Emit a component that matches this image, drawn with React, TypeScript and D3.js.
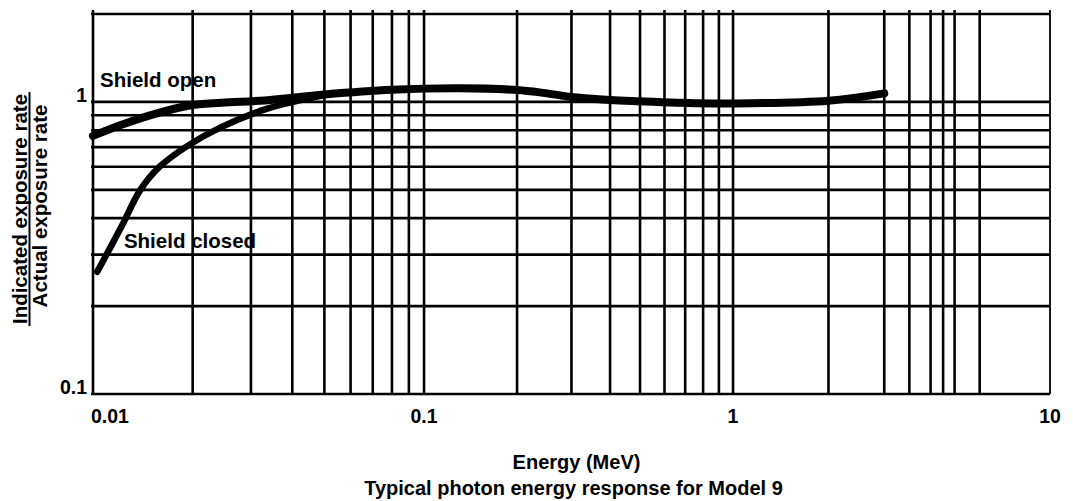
import React from "react";
import * as d3 from "d3";

// ---- data ----
const xGridValues = [0.01, 0.02, 0.03, 0.04, 0.05, 0.06, 0.07, 0.08, 0.09, 0.1, 0.2, 0.3, 0.4, 0.5, 0.6, 0.7, 0.8, 0.9, 1, 2, 3, 3.6, 4.2, 4.6, 5, 6, 10];
const yGridValues = [0.1, 0.2, 0.3, 0.4, 0.5, 0.6, 0.7, 0.8, 0.9, 1, 2];
const xTickValues = [0.01, 0.1, 1, 10];
const xTickLabels = ["0.01", "0.1", "1", "10"];
const yTickValues = [0.1, 1];
const yTickLabels = ["0.1", "1"];

const openEnergy = [0.01, 0.0122, 0.0154, 0.0194, 0.0244, 0.033, 0.05, 0.08, 0.13, 0.2, 0.243, 0.3, 0.4, 0.5, 0.77, 1.0, 2.0, 3.0];
const openResponse = [0.765, 0.835, 0.91, 0.97, 0.993, 1.012, 1.06, 1.1, 1.113, 1.098, 1.074, 1.04, 1.015, 1.005, 0.99, 0.988, 1.01, 1.07];

const closedEnergy = [0.0103, 0.0122, 0.0139, 0.0159, 0.0194, 0.0244, 0.0338, 0.05];
const closedResponse = [0.262, 0.375, 0.5, 0.6, 0.71, 0.82, 0.95, 1.055];

const openLabel = { text: "Shield open", energy: 0.0105, value: 1.125 };
const closedLabel = { text: "Shield closed", energy: 0.0124, value: 0.317 };

const yTitleTop = "Indicated exposure rate";
const yTitleBottom = "Actual exposure rate";
const xTitle = "Energy (MeV)";
const caption = "Typical photon energy response for Model 9";

// ---- layout ----
const W = 1073;
const H = 501;
const M = { left: 93, right: 23, top: 14, bottom: 107 };
const decadeStops = [0, 0.3459, 0.6688, 1];
const FONT = "'Liberation Sans', Arial, Helvetica, sans-serif";

export default function App() {
  const plotW = W - M.left - M.right;
  const x = d3
    .scaleLog()
    .domain([0.01, 0.1, 1, 10])
    .range(decadeStops.map((f) => M.left + f * plotW));
  const y = d3.scaleLog().domain([0.1, 2]).range([H - M.bottom, M.top]);

  const line = d3
    .line<[number, number]>()
    .x((d) => x(d[0]))
    .y((d) => y(d[1]))
    .curve(d3.curveCatmullRom.alpha(0.5));

  const openPts = openEnergy.map((e, i) => [e, openResponse[i]] as [number, number]);
  const closedPts = closedEnergy.map((e, i) => [e, closedResponse[i]] as [number, number]);

  const x0 = x(0.01);
  const x1 = x(10);
  const yTop = y(2);
  const yBot = y(0.1);
  const gridW = 2.6;
  const yTitleCenter = 209;

  return (
    <svg
      width={W}
      height={H}
      style={{ position: "absolute", left: 0, top: 0, background: "#fff" }}
      fontFamily={FONT}
      fontWeight="bold"
    >
      <rect width={W} height={H} fill="#fff" />
      {/* horizontal grid */}
      {yGridValues.map((v) => (
        <line key={"h" + v} x1={x0 - 2} x2={x1} y1={y(v)} y2={y(v)} stroke="#000" strokeWidth={gridW} />
      ))}
      {/* vertical grid */}
      {xGridValues.map((v) => (
        <line
          key={"v" + v}
          x1={x(v)}
          x2={x(v)}
          y1={yTop - 4}
          y2={yBot}
          stroke="#000"
          strokeWidth={v === 10 ? 1.8 : gridW}
        />
      ))}
      {/* curves */}
      <path d={line(closedPts) || ""} fill="none" stroke="#000" strokeWidth={6.5} strokeLinecap="round" />
      <path d={line(openPts) || ""} fill="none" stroke="#000" strokeWidth={8} strokeLinecap="round" />

      {/* annotations */}
      <text x={x(openLabel.energy)} y={y(openLabel.value)} fontSize={20.5}>
        {openLabel.text}
      </text>
      <text x={x(closedLabel.energy)} y={y(closedLabel.value)} fontSize={20.5}>
        {closedLabel.text}
      </text>

      {/* x tick labels */}
      {xTickValues.map((v, i) => (
        <text
          key={"xt" + v}
          x={i === 0 ? x(v) - 2 : x(v)}
          y={yBot + 29}
          fontSize={19.5}
          textAnchor={i === 0 ? "start" : "middle"}
        >
          {xTickLabels[i]}
        </text>
      ))}
      {/* y tick labels */}
      {yTickValues.map((v, i) => (
        <text key={"yt" + v} x={x0 - 6} y={y(v)} fontSize={19.5} textAnchor="end">
          {yTickLabels[i]}
        </text>
      ))}

      {/* y title as fraction */}
      <g transform={`translate(27, ${yTitleCenter}) rotate(-90)`}>
        <text x={0} y={0} fontSize={20.5} textAnchor="middle">
          {yTitleTop}
        </text>
      </g>
      <line x1={29.5} x2={29.5} y1={yTitleCenter - 117} y2={yTitleCenter + 117} stroke="#000" strokeWidth={2} />
      <g transform={`translate(47, ${yTitleCenter - 3}) rotate(-90)`}>
        <text x={0} y={0} fontSize={20.5} textAnchor="middle">
          {yTitleBottom}
        </text>
      </g>

      {/* x title and caption */}
      <text x={(x0 + x1) / 2 + 5} y={469} fontSize={20} textAnchor="middle">
        {xTitle}
      </text>
      <text x={(x0 + x1) / 2 + 2} y={495} fontSize={20} textAnchor="middle">
        {caption}
      </text>
    </svg>
  );
}
